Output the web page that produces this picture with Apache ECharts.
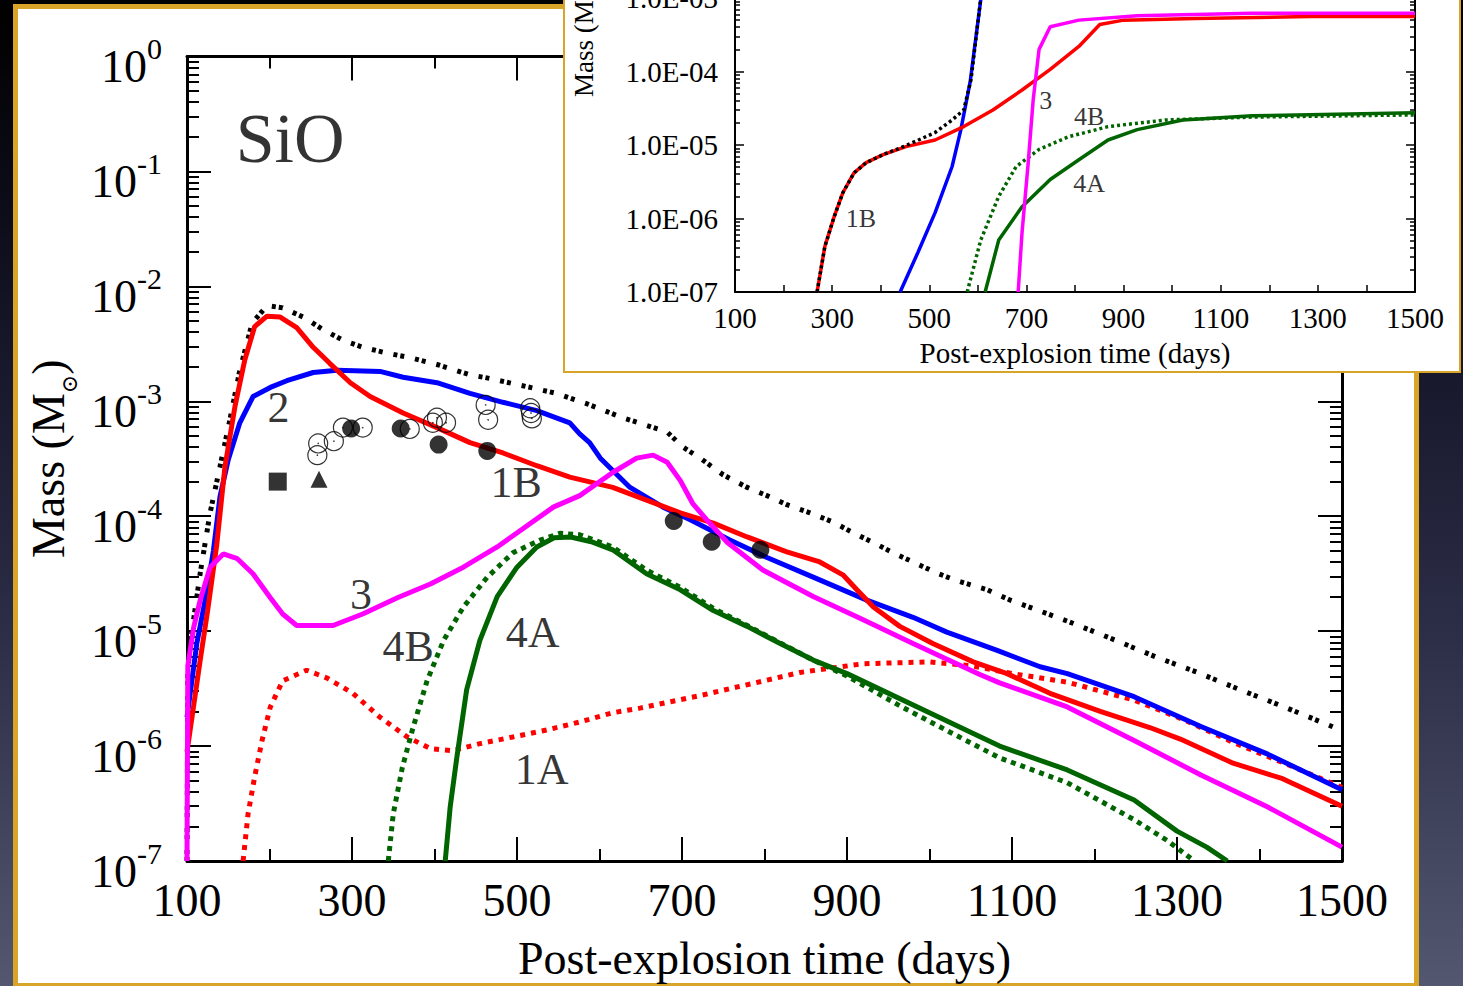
<!DOCTYPE html>
<html>
<head>
<meta charset="utf-8">
<script src="https://cdn.jsdelivr.net/npm/echarts@6.0.0/dist/echarts.min.js"></script>
<style>
  html, body { margin: 0; padding: 0; width: 1463px; height: 986px; overflow: hidden; }
  body {
    position: relative;
    background: linear-gradient(to bottom, #000000 0%, #0c0c18 20%, #191a2e 40%, #2d2e48 65%, #53576f 100%);
  }
  #panel {
    position: absolute; left: 13px; top: 4px; width: 1406px; height: 984px;
    box-sizing: border-box; border: 5px solid #d9a528; background: #fff;
  }
  #main { position: absolute; left: 0; top: 0; width: 1463px; height: 986px; }
  #insetBox {
    position: absolute; left: 563px; top: -20px; width: 898px; height: 393px;
    box-sizing: border-box; border: 2px solid #d9a528; background: #fff; z-index: 5;
  }
  #inset { width: 894px; height: 389px; }
</style>
</head>
<body>
<div id="panel"></div>
<div id="main"></div>
<div id="insetBox"><div id="inset"></div></div>
<script>
// ---- main panel data (days, mass in Msun) ----
const totalDotted = [[100,1.0e-7],[101,4.6e-6],[104,7.9e-6],[108,1.26e-5],[112,2.0e-5],[116,3.2e-5],[128,1.07e-4],
  [140,2.7e-4],[152,6.9e-4],[164,1.86e-3],[179,4.8e-3],[197,6.8e-3],[216,6.5e-3],[241,5.4e-3],[265,4.2e-3],
  [289,3.4e-3],[313,2.95e-3],[342,2.63e-3],[370,2.4e-3],[403,2.09e-3],[443,1.7e-3],[467,1.58e-3],[504,1.38e-3],
  [548,1.17e-3],[585,9.5e-4],[628,7.2e-4],[682,5.4e-4],[701,4.0e-4],[722,3.2e-4],[750,2.29e-4],[779,1.78e-4],
  [803,1.51e-4],[827,1.26e-4],[855,1.07e-4],[883,8.9e-5],[907,7.2e-5],[932,5.9e-5],[956,4.8e-5],[980,4.0e-5],
  [1009,3.2e-5],[1033,2.75e-5],[1070,2.29e-5],[1098,1.86e-5],[1125,1.58e-5],[1170,1.2e-5],[1219,8.7e-6],
  [1276,5.9e-6],[1324,4.4e-6],[1376,3.1e-6],[1430,2.19e-6],[1491,1.45e-6]];
const model1B = [[100,8.9e-7],[116,5.6e-6],[125,1.51e-5],[136,5.6e-5],[146,2.69e-4],[158,8.9e-4],[170,2.29e-3],
  [182,4.47e-3],[197,5.5e-3],[213,5.4e-3],[233,4.37e-3],[253,2.95e-3],[273,2.14e-3],[298,1.45e-3],[322,1.1e-3],
  [362,7.9e-4],[403,5.9e-4],[443,4.37e-4],[483,3.55e-4],[524,2.75e-4],[564,2.19e-4],[616,1.78e-4],[657,1.38e-4],
  [698,1.07e-4],[738,8.7e-5],[779,6.6e-5],[827,4.9e-5],[867,4.0e-5],[895,3.09e-5],[912,2.29e-5],[932,1.62e-5],
  [964,1.1e-5],[1004,7.8e-6],[1053,5.4e-6],[1094,4.27e-6],[1146,2.88e-6],[1207,2.0e-6],[1267,1.45e-6],
  [1304,1.15e-6],[1368,7.1e-7],[1428,5.2e-7],[1500,3.0e-7]];
const model1A = [[168,1.0e-7],[174,2.57e-7],[182,5.4e-7],[191,1.12e-6],[201,2.19e-6],[216,3.7e-6],[245,4.57e-6],
  [270,3.9e-6],[301,2.88e-6],[334,1.78e-6],[367,1.2e-6],[395,9.5e-7],[422,9.1e-7],[455,1.05e-6],[495,1.2e-6],
  [536,1.38e-6],[576,1.62e-6],[616,1.95e-6],[649,2.14e-6],[722,2.75e-6],[843,4.37e-6],[919,5.2e-6],[1000,5.4e-6],
  [1050,5.0e-6],[1101,4.27e-6],[1167,3.6e-6],[1248,2.51e-6],[1308,1.7e-6],[1369,1.07e-6],[1430,7.1e-7],[1500,4.37e-7]];
const model2 = [[100,1.78e-6],[112,7.9e-6],[122,1.86e-5],[132,5.0e-5],[140,1.48e-4],[150,3.1e-4],[164,6.5e-4],
  [180,1.1e-3],[201,1.32e-3],[221,1.51e-3],[253,1.78e-3],[282,1.86e-3],[334,1.82e-3],[362,1.62e-3],[403,1.45e-3],
  [443,1.17e-3],[483,9.8e-4],[524,8.3e-4],[564,6.5e-4],[576,5.2e-4],[588,4.37e-4],[601,3.2e-4],[637,1.78e-4],
  [677,1.2e-4],[710,9.3e-5],[758,6.2e-5],[803,4.37e-5],[859,2.95e-5],[924,1.86e-5],[980,1.32e-5],[1021,9.8e-6],
  [1082,6.8e-6],[1134,4.9e-6],[1167,4.27e-6],[1248,2.69e-6],[1329,1.48e-6],[1410,8.5e-7],[1500,4.17e-7]];
const model3 = [[100,1.0e-7],[101,5.0e-6],[108,1.07e-5],[116,1.86e-5],[128,3.6e-5],[144,4.7e-5],[161,4.27e-5],
  [180,3.16e-5],[201,1.95e-5],[216,1.41e-5],[233,1.12e-5],[277,1.12e-5],[313,1.41e-5],[355,1.95e-5],[395,2.57e-5],
  [435,3.6e-5],[476,5.4e-5],[544,1.2e-4],[576,1.51e-4],[616,2.4e-4],[645,3.2e-4],[665,3.4e-4],[682,2.95e-4],
  [698,2.04e-4],[713,1.29e-4],[730,9.3e-5],[755,5.9e-5],[798,3.4e-5],[859,2.0e-5],[919,1.26e-5],[980,7.8e-6],
  [1061,4.2e-6],[1085,3.55e-6],[1167,2.19e-6],[1248,1.12e-6],[1329,5.6e-7],[1410,2.95e-7],[1500,1.32e-7]];
const model4A = [[413,1.0e-7],[419,2.95e-7],[427,7.9e-7],[439,3.1e-6],[455,8.3e-6],[476,2.0e-5],[500,3.6e-5],
  [524,5.4e-5],[545,6.5e-5],[565,6.6e-5],[590,6.0e-5],[616,5.1e-5],[657,3.16e-5],[698,2.29e-5],[738,1.51e-5],
  [779,1.1e-5],[819,7.8e-6],[859,5.6e-6],[900,4.27e-6],[1000,1.95e-6],[1085,1.0e-6],[1167,6.2e-7],[1248,3.4e-7],
  [1300,1.82e-7],[1336,1.32e-7],[1361,1.0e-7]];
const model4B = [[344,1.0e-7],[350,2.57e-7],[361,6.5e-7],[374,1.45e-6],[391,3.7e-6],[411,8.3e-6],[435,1.62e-5],
  [464,2.95e-5],[495,4.8e-5],[528,6.2e-5],[552,7.1e-5],[576,6.9e-5],[616,5.4e-5],[657,3.4e-5],[698,2.4e-5],
  [738,1.58e-5],[779,1.12e-5],[819,7.9e-6],[859,5.6e-6],[900,4.07e-6],[964,2.24e-6],[1025,1.32e-6],[1085,7.9e-7],
  [1167,4.8e-7],[1248,2.29e-7],[1288,1.51e-7],[1321,1.0e-7]];
const obsFilled = [[299,5.8e-4],[359,5.8e-4],[405,4.2e-4],[464,3.7e-4],[690,9.1e-5],[736,6.0e-5],[795,5.1e-5]];
const obsOpen = [[258,3.4e-4],[259,4.3e-4],[278,4.5e-4],[289,5.9e-4],[313,5.9e-4],[370,5.75e-4],[398,6.5e-4],
  [403,7.2e-4],[414,6.5e-4],[462,9.3e-4],[465,6.9e-4],[516,8.7e-4],[517,7.9e-4],[518,7.1e-4]];
const obsSquare = [[210,2.0e-4]];
const obsTriangle = [[260,2.1e-4]];
const mainLabels = [['2',211,8.9e-4],['1B',499,1.95e-4],['3',311,2.09e-5],['4B',368,7.4e-6],
  ['4A',519,9.8e-6],['1A',530,6.3e-7]];
const titleLabel = [['SiO',225,0.195]];

// ---- inset data ----
const in1B = [[269,1.0e-7],[285,4.17e-7],[304,1.05e-6],[322,2.24e-6],[345,4.17e-6],[370,5.75e-6],[405,7.4e-6],
  [452,9.5e-6],[512,1.17e-5],[571,1.78e-5],[631,3.0e-5],[691,5.6e-5],[749,1.07e-4],[808,2.19e-4],[851,4.37e-4],
  [900,5.0e-4],[1047,5.25e-4],[1284,5.6e-4],[1500,5.6e-4]];
const inTotal = [[269,1.0e-7],[285,4.17e-7],[304,1.05e-6],[322,2.24e-6],[345,4.17e-6],[370,5.75e-6],[405,7.4e-6],
  [452,9.8e-6],[512,1.48e-5],[547,2.19e-5],[571,3.0e-5],[586,7.8e-5],[606,1.0e-3],[612,1.6e-3]];
const in2 = [[440,1.0e-7],[477,3.5e-7],[512,1.2e-6],[547,5.1e-6],[565,1.62e-5],[584,7.1e-5],[606,9.5e-4],[612,1.58e-3]];
const in3 = [[683,1.0e-7],[691,6.5e-7],[703,5.1e-6],[714,4.17e-5],[726,2.0e-4],[749,4.07e-4],[808,5.0e-4],
  [928,5.75e-4],[1165,6.2e-4],[1500,6.2e-4]];
const in4A = [[615,1.0e-7],[643,5.1e-7],[691,1.45e-6],[749,3.4e-6],[808,6.3e-6],[868,1.17e-5],[928,1.62e-5],
  [1022,2.19e-5],[1165,2.5e-5],[1500,2.75e-5]];
const in4B = [[578,1.0e-7],[606,5.1e-7],[643,2.0e-6],[679,5.1e-6],[726,8.7e-6],[786,1.29e-5],[868,1.78e-5],
  [987,2.19e-5],[1165,2.4e-5],[1500,2.57e-5]];
const insetLabels = [['1B',359,1.0e-6],['3',740,4.0e-5],['4B',829,2.45e-5],['4A',829,2.95e-6]];

// ---- ticks ----
const xMajor = [100, 300, 500, 700, 900, 1100, 1300, 1500];
const xMinor = [200, 400, 600, 800, 1000, 1200, 1400];
const insetXTicks = [100, 200, 300, 400, 500, 600, 700, 800, 900, 1000, 1100, 1200, 1300, 1400, 1500];
const mainDecades = [1e-7, 1e-6, 1e-5, 1e-4, 1e-3, 1e-2, 1e-1, 1];
const insetDecades = [1e-7, 1e-6, 1e-5, 1e-4, 1e-3];
const mantissas = [2, 3, 4, 5, 6, 7, 8, 9];

const serif = '"Liberation Serif", "Times New Roman", "DejaVu Serif", serif';
const minorOf = decs => {
  const out = [];
  decs.slice(0, -1).forEach(d => mantissas.forEach(m => out.push(+(m * d).toPrecision(3))));
  return out;
};
const expOf = v => Math.round(Math.log10(v));
const plain = v => String(v);

function xAxes(grid, opts) {
  const base = { gridIndex: grid, type: 'value', min: 100, max: 1500, splitLine: { show: false } };
  return opts.map(o => Object.assign({}, base, o));
}
function yAxes(min, max, opts) {
  const base = { type: 'log', logBase: 10, min: min, max: max, splitLine: { show: false } };
  return opts.map(o => Object.assign({}, base, o));
}

const labelSeries = (list, size, xi, yi) => ({
  type: 'scatter', xAxisIndex: xi, yAxisIndex: yi, symbolSize: 1, z: 10,
  itemStyle: { color: 'transparent' },
  data: list.map(l => ({ name: l[0], value: [l[1], l[2]] })),
  label: { show: true, position: 'inside', formatter: '{b}', color: '#000', fontFamily: serif, fontSize: size }
});
const line = (data, color, width, dash, z) => ({
  type: 'line', data: data, showSymbol: false, symbol: 'none', z: z || 2,
  lineStyle: { color: color, width: width, type: dash || 'solid', cap: 'butt' }
});

// ---- main chart ----
const mainChart = echarts.init(document.getElementById('main'), null, { renderer: 'svg' });
const axLine3 = { show: true, onZero: false, lineStyle: { color: '#000', width: 3 } };
const noLine = { show: false, onZero: false };
mainChart.setOption({
  backgroundColor: 'transparent',
  animation: false,
  grid: { left: 187, right: 121, top: 56.5, bottom: 125, outerBoundsMode: 'none' },
  xAxis: xAxes(0, [
    { position: 'bottom', axisLine: axLine3,
      axisTick: { inside: true, length: 24, customValues: xMajor, lineStyle: { color: '#000', width: 2 } },
      axisLabel: { customValues: xMajor, formatter: plain, margin: 16, fontSize: 46, fontFamily: serif, color: '#000' },
      name: 'Post-explosion time (days)', nameLocation: 'middle', nameGap: 74,
      nameTextStyle: { fontSize: 46, fontFamily: serif, color: '#000' } },
    { position: 'bottom', axisLine: noLine, axisLabel: { show: false },
      axisTick: { inside: true, length: 12, customValues: xMinor, lineStyle: { color: '#000', width: 2 } } },
    { position: 'top', axisLine: axLine3, axisLabel: { show: false },
      axisTick: { inside: true, length: 24, customValues: xMajor, lineStyle: { color: '#000', width: 2 } } },
    { position: 'top', axisLine: noLine, axisLabel: { show: false },
      axisTick: { inside: true, length: 12, customValues: xMinor, lineStyle: { color: '#000', width: 2 } } }
  ]),
  yAxis: yAxes(1e-7, 1, [
    { position: 'left', axisLine: axLine3,
      axisTick: { inside: true, length: 24, customValues: mainDecades, lineStyle: { color: '#000', width: 2 } },
      axisLabel: {
        customValues: mainDecades, margin: 25, color: '#000',
        formatter: v => '{b|10}{s|' + expOf(v) + '}',
        rich: {
          b: { fontSize: 46, lineHeight: 46, fontFamily: serif, color: '#000', verticalAlign: 'top', padding: [10, 0, 0, 0] },
          s: { fontSize: 30, lineHeight: 30, fontFamily: serif, color: '#000', verticalAlign: 'top' }
        }
      },
      name: '{a|Mass (M}{b|\u2299}{a|)}', nameLocation: 'middle', nameGap: 108,
      nameTextStyle: {
        color: '#000',
        rich: {
          a: { fontSize: 46, lineHeight: 46, fontFamily: serif, color: '#000', verticalAlign: 'top' },
          b: { fontSize: 22, lineHeight: 22, fontFamily: serif, color: '#000', verticalAlign: 'top', padding: [33, 0, 0, 0] }
        }
      } },
    { position: 'left', axisLine: noLine, axisLabel: { show: false },
      axisTick: { inside: true, length: 12, customValues: minorOf(mainDecades), lineStyle: { color: '#000', width: 2 } } },
    { position: 'right', axisLine: axLine3, axisLabel: { show: false },
      axisTick: { inside: true, length: 24, customValues: mainDecades, lineStyle: { color: '#000', width: 2 } } },
    { position: 'right', axisLine: noLine, axisLabel: { show: false },
      axisTick: { inside: true, length: 12, customValues: minorOf(mainDecades), lineStyle: { color: '#000', width: 2 } } }
  ]),
  series: [
    line(totalDotted, '#000', 5, [4, 3, 4, 11]),
    line(model1A, '#ff0000', 5, [5, 6]),
    line(model4B, '#006400', 5, [5, 5]),
    line(model4A, '#006400', 5),
    line(model2, '#0000ff', 5),
    line(model1B, '#ff0000', 5),
    line(model3, '#ff00ff', 5),
    { type: 'scatter', data: obsOpen, symbol: 'circle', symbolSize: 19, z: 5,
      itemStyle: { color: 'transparent', borderColor: '#000', borderWidth: 1.2 } },
    { type: 'scatter', data: obsOpen, symbol: 'circle', symbolSize: 1.6, z: 5, itemStyle: { color: '#000' } },
    { type: 'scatter', data: obsFilled, symbol: 'circle', symbolSize: 18, z: 6, itemStyle: { color: '#000' } },
    { type: 'scatter', data: obsSquare, symbol: 'rect', symbolSize: 18, z: 6, itemStyle: { color: '#000' } },
    { type: 'scatter', data: obsTriangle, symbol: 'triangle', symbolSize: 17, z: 6, itemStyle: { color: '#000' } },
    labelSeries(mainLabels, 44, 0, 0),
    labelSeries(titleLabel, 70, 0, 0)
  ]
});

// ---- inset chart ----
const insetChart = echarts.init(document.getElementById('inset'), null, { renderer: 'svg' });
const axLine2 = { show: true, onZero: false, lineStyle: { color: '#000', width: 2 } };
insetChart.setOption({
  backgroundColor: 'transparent',
  animation: false,
  grid: { left: 170, right: 44, top: 16, bottom: 79, outerBoundsMode: 'none' },
  xAxis: xAxes(0, [
    { position: 'bottom', axisLine: axLine2,
      axisTick: { inside: true, length: 7, customValues: insetXTicks, lineStyle: { color: '#000', width: 1.5 } },
      axisLabel: { customValues: xMajor, formatter: plain, margin: 11, fontSize: 29, fontFamily: serif, color: '#000' },
      name: 'Post-explosion time (days)', nameLocation: 'middle', nameGap: 46,
      nameTextStyle: { fontSize: 29, fontFamily: serif, color: '#000' } }
  ]),
  yAxis: yAxes(1e-7, 1e-3, [
    { position: 'left', axisLine: axLine2,
      axisTick: { inside: true, length: 9, customValues: insetDecades, lineStyle: { color: '#000', width: 1.5 } },
      axisLabel: { customValues: insetDecades, margin: 17, fontSize: 29, fontFamily: serif, color: '#000',
        formatter: v => '1.0E-0' + (-expOf(v)) } },
    { position: 'left', axisLine: noLine, axisLabel: { show: false },
      axisTick: { inside: true, length: 5, customValues: minorOf(insetDecades), lineStyle: { color: '#000', width: 1.5 } } },
    { position: 'right', axisLine: axLine2, axisLabel: { show: false },
      axisTick: { inside: true, length: 9, customValues: insetDecades, lineStyle: { color: '#000', width: 1.5 } } },
    { position: 'right', axisLine: noLine, axisLabel: { show: false },
      axisTick: { inside: true, length: 5, customValues: minorOf(insetDecades), lineStyle: { color: '#000', width: 1.5 } } }
  ]),
  graphic: [{
    type: 'text', x: 19, y: 115, rotation: Math.PI / 2,
    style: {
      text: '{a|Mass (M}{b|\u2299}{a|)}', align: 'left', verticalAlign: 'middle',
      rich: {
        a: { fontSize: 27, lineHeight: 27, fontFamily: serif, fill: '#000', verticalAlign: 'top' },
        b: { fontSize: 14, lineHeight: 14, fontFamily: serif, fill: '#000', verticalAlign: 'top', padding: [19, 0, 0, 0] }
      }
    }
  }],
  series: [
    line(inTotal, '#000', 3.5, [3, 3], 3),
    line(in4B, '#006400', 3.5, [3, 3]),
    line(in4A, '#006400', 3.5),
    line(in2, '#0000ff', 3.5),
    line(in1B, '#ff0000', 3.5),
    line(in3, '#ff00ff', 3.5),
    labelSeries(insetLabels, 26, 0, 0)
  ]
});
</script>
</body>
</html>
